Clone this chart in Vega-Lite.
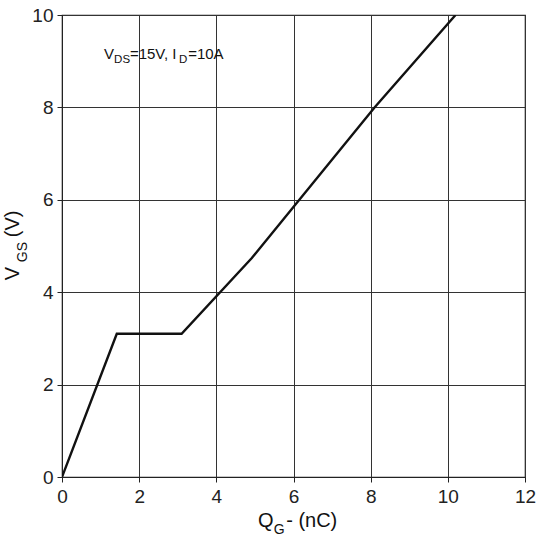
{
  "$schema": "https://vega.github.io/schema/vega-lite/v6.json",
  "autosize": "none",
  "padding": {"left": 62, "top": 15, "right": 15, "bottom": 63},
  "width": 463,
  "height": 462,
  "background": "white",
  "config": {
    "font": "Liberation Sans",
    "view": {"stroke": "#222", "strokeWidth": 1.2},
    "axis": {
      "labelFont": "Liberation Sans",
      "labelFontSize": 19,
      "labelColor": "#222",
      "labelFlush": false,
      "gridColor": "#333",
      "gridOpacity": 1,
      "gridWidth": 1,
      "domainColor": "#222",
      "tickColor": "#222",
      "tickSize": 5,
      "labelPadding": 4
    }
  },
  "datasets": {
    "curve": [
      {"qg": 0, "vgs": 0},
      {"qg": 1.42, "vgs": 3.1},
      {"qg": 3.1, "vgs": 3.1},
      {"qg": 4.92, "vgs": 4.74},
      {"qg": 8.1, "vgs": 8.0},
      {"qg": 10.2, "vgs": 10.0}
    ],
    "labels": [
      {"x": 1.09, "y": 9.16, "t": "V", "size": 15},
      {"x": 1.35, "y": 9.02, "t": "DS", "size": 11.5},
      {"x": 1.76, "y": 9.16, "t": "=15V, I", "size": 15},
      {"x": 3.03, "y": 9.02, "t": "D", "size": 11.5},
      {"x": 3.27, "y": 9.16, "t": "=10A", "size": 15},
      {"x": 5.08, "y": -0.95, "t": "Q", "size": 20},
      {"x": 5.49, "y": -1.15, "t": "G", "size": 14},
      {"x": 5.81, "y": -0.95, "t": "- (nC)", "size": 20}
    ],
    "ylabels": [
      {"x": -1.28, "y": 4.26, "t": "V", "size": 20},
      {"x": -1.0, "y": 4.65, "t": "GS", "size": 14},
      {"x": -1.28, "y": 5.19, "t": "(V)", "size": 20}
    ]
  },
  "layer": [
    {
      "data": {"name": "curve"},
      "mark": {"type": "line", "color": "#111", "strokeWidth": 2.4, "clip": true},
      "encoding": {
        "x": {
          "field": "qg", "type": "quantitative",
          "scale": {"domain": [0, 12], "nice": false, "zero": false},
          "axis": {"values": [0, 2, 4, 6, 8, 10, 12], "title": null, "grid": true, "labelPadding": 5}
        },
        "y": {
          "field": "vgs", "type": "quantitative",
          "scale": {"domain": [0, 10], "nice": false, "zero": false},
          "axis": {"values": [0, 2, 4, 6, 8, 10], "title": null, "grid": true}
        }
      }
    },
    {
      "data": {"name": "labels"},
      "mark": {"type": "text", "align": "left", "baseline": "middle", "color": "#111", "font": "Liberation Sans"},
      "encoding": {
        "x": {"field": "x", "type": "quantitative"},
        "y": {"field": "y", "type": "quantitative"},
        "text": {"field": "t"},
        "size": {"field": "size", "type": "quantitative", "scale": null}
      }
    },
    {
      "data": {"name": "ylabels"},
      "mark": {"type": "text", "align": "left", "baseline": "middle", "angle": 270, "color": "#111", "font": "Liberation Sans"},
      "encoding": {
        "x": {"field": "x", "type": "quantitative"},
        "y": {"field": "y", "type": "quantitative"},
        "text": {"field": "t"},
        "size": {"field": "size", "type": "quantitative", "scale": null}
      }
    }
  ]
}
